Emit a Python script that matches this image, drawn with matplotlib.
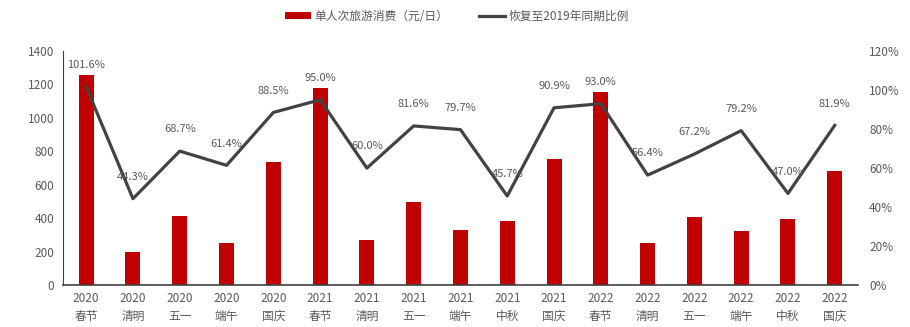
import numpy as np
import matplotlib
matplotlib.use("Agg")
import matplotlib.pyplot as plt
from matplotlib.ticker import FuncFormatter

plt.rcParams['font.family'] = ['Noto Sans CJK SC', 'DejaVu Sans']

years = ["2020"] * 5 + ["2021"] * 6 + ["2022"] * 6
holidays = ["春节", "清明", "五一", "端午", "国庆",
            "春节", "清明", "五一", "端午", "中秋", "国庆",
            "春节", "清明", "五一", "端午", "中秋", "国庆"]
spend = [1256, 197, 413, 251, 736, 1179, 269, 497, 329, 383, 754,
         1155, 251, 407, 323, 395, 682]
recovery = [101.6, 44.3, 68.7, 61.4, 88.5, 95.0, 60.0, 81.6, 79.7, 45.7, 90.9,
            93.0, 56.4, 67.2, 79.2, 47.0, 81.9]

TXT = "#595959"
fig = plt.figure(figsize=(9.1, 3.27), dpi=100)
ax = fig.add_axes([0.069, 0.128, 0.874, 0.716])
ax2 = ax.twinx()

x = np.arange(len(spend))
ax.bar(x, spend, width=0.32, color="#c00000", label="单人次旅游消费（元/日）", zorder=2)
ax2.plot(x, recovery, color="#434343", lw=2.3, label="恢复至2019年同期比例", zorder=3)
for xi, v in zip(x, recovery):
    ax2.annotate(f"{v:.1f}%", (xi, v), xytext=(0, 12), textcoords="offset points",
                 ha="center", va="bottom", fontsize=8, color=TXT)

ax.set_xlim(-0.5, len(spend) - 0.5)
ax.set_ylim(0, 1400)
ax.set_yticks(range(0, 1401, 200))
ax2.set_ylim(0, 120)
ax2.set_yticks(range(0, 121, 20))
ax2.yaxis.set_major_formatter(FuncFormatter(lambda v, p: f"{v:.0f}%"))
ax.set_xticks(x)
ax.set_xticklabels([f"{y}\n{h}" for y, h in zip(years, holidays)], fontsize=8.5, color=TXT,
                   linespacing=1.5)

for a in (ax, ax2):
    a.tick_params(length=0, labelsize=8.5, labelcolor=TXT)
    for s in ("top", "right"):
        a.spines[s].set_visible(False)
ax2.spines["left"].set_visible(False)
ax2.spines["bottom"].set_visible(False)
ax.spines["left"].set_color("#404040")
ax.spines["bottom"].set_color("#404040")
ax.spines["bottom"].set_linewidth(1.2)
ax.tick_params(axis="x", pad=5)
ax.tick_params(axis="y", pad=6)
ax2.tick_params(axis="y", pad=8)
ax2.set_zorder(ax.get_zorder() + 1)
ax2.patch.set_visible(False)

h1, l1 = ax.get_legend_handles_labels()
h2, l2 = ax2.get_legend_handles_labels()
fig.legend(h1 + h2, l1 + l2, loc="center", bbox_to_anchor=(0.502, 0.95), ncol=2, frameon=False,
           fontsize=8.5, labelcolor=TXT, handlelength=2.2, handleheight=0.5, columnspacing=2.6,
           handletextpad=0.3)

fig.savefig("out.png", dpi=100, facecolor="white")
